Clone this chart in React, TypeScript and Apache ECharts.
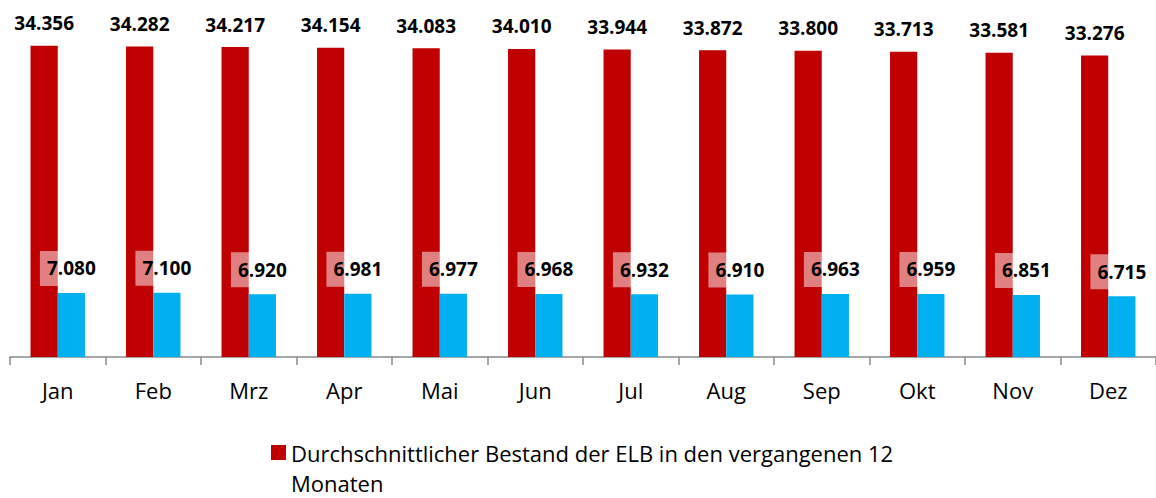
import React, { useEffect, useRef } from "react";
import * as echarts from "echarts";

const months = ["Jan", "Feb", "Mrz", "Apr", "Mai", "Jun", "Jul", "Aug", "Sep", "Okt", "Nov", "Dez"];
const elbAverage = [34356, 34282, 34217, 34154, 34083, 34010, 33944, 33872, 33800, 33713, 33581, 33276];
const secondSeries = [7080, 7100, 6920, 6981, 6977, 6968, 6932, 6910, 6963, 6959, 6851, 6715];
const redName = "Durchschnittlicher Bestand der ELB in den vergangenen 12 Monaten";
const blueName = "Zweite Reihe";

const fmt = (v: number) => {
  const th = Math.floor(v / 1000);
  const rest = String(v % 1000).padStart(3, "0");
  return th + "." + rest;
};

const FONT = "'Open Sans'";

export default function App() {
  const ref = useRef<HTMLDivElement>(null);
  useEffect(() => {
    if (!ref.current) return;
    const chart = echarts.init(ref.current, undefined, { renderer: "svg" });
    chart.setOption({
      animation: false,
      textStyle: { fontFamily: FONT },
      grid: { left: 10, right: -5, top: 40, bottom: 141, containLabel: false },
      legend: {
        data: [redName],
        left: 271,
        top: 437.5,
        padding: 0,
        icon: "path://M0,0H15V15H0Z M0,45L0.001,45",
        itemWidth: 15,
        itemHeight: 45,
        itemGap: 5,
        formatter: () => "Durchschnittlicher Bestand der ELB in den vergangenen 12\nMonaten",
        textStyle: { fontFamily: FONT, fontSize: 22, color: "#000", lineHeight: 30 },
      },
      xAxis: {
        type: "category",
        data: months,
        axisLine: { lineStyle: { color: "#898989", width: 1.5 } },
        axisTick: { show: true, length: 8, lineStyle: { color: "#898989", width: 1.5 } },
        axisLabel: { fontFamily: FONT, fontSize: 22, color: "#000", margin: 22 },
      },
      yAxis: {
        type: "value",
        min: 0,
        max: 35000,
        show: false,
        splitLine: { show: false },
      },
      series: [
        {
          name: redName,
          type: "bar",
          data: elbAverage,
          barGap: "0%",
          barCategoryGap: "43%",
          itemStyle: { color: "#C00000" },
          label: {
            show: true,
            position: "top",
            distance: 13,
            formatter: (p: any) => fmt(p.value),
            fontFamily: FONT,
            fontWeight: "bold",
            fontSize: 19,
            color: "#000",
          },
        },
        {
          name: blueName,
          type: "bar",
          data: secondSeries,
          itemStyle: { color: "#00B0F0" },
          label: {
            show: true,
            position: "top",
            distance: 7,
            formatter: (p: any) => fmt(p.value),
            fontFamily: FONT,
            fontWeight: "bold",
            fontSize: 19,
            color: "#000",
            backgroundColor: "rgba(255,255,255,0.5)",
            padding: [8, 7],
          },
        },
      ],
    });
    return () => chart.dispose();
  }, []);
  return (
    <div
      ref={ref}
      style={{ position: "absolute", left: 0, top: 0, width: 1156, height: 498 }}
    />
  );
}
